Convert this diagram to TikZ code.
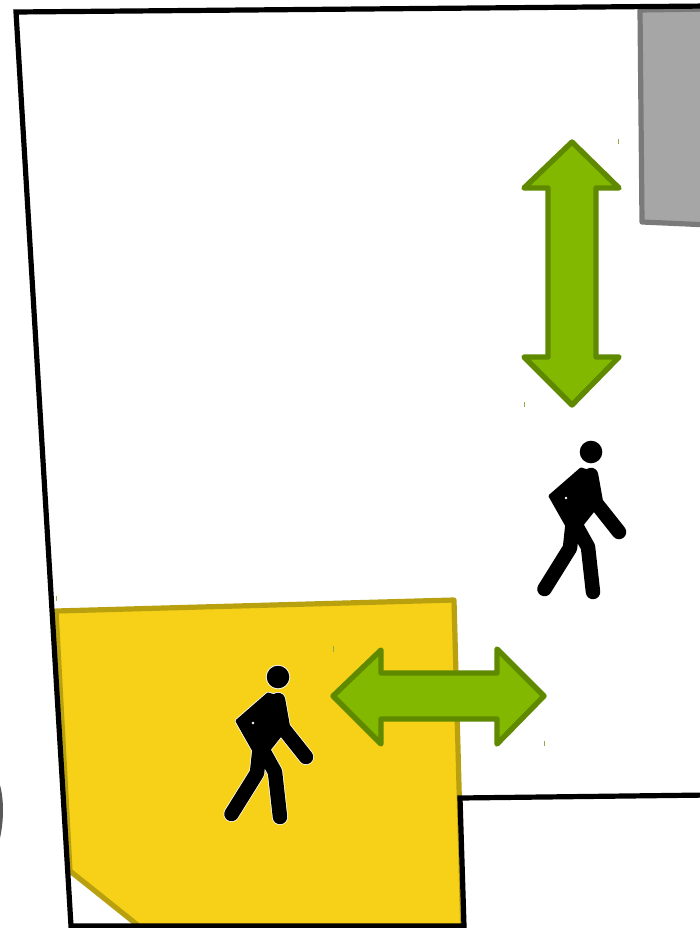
\documentclass[tikz,border=0pt]{standalone}
\usetikzlibrary{calc}
\definecolor{yfill}{HTML}{F7D117}
\definecolor{yline}{HTML}{B8A00F}
\definecolor{gfill}{HTML}{A6A6A6}
\definecolor{gline}{HTML}{7A7A7A}
\definecolor{afill}{HTML}{82B800}
\definecolor{aline}{HTML}{5F8A00}
\tikzset{
  wall/.style={draw=black,line width=5.2pt,line join=miter,line cap=butt},
  zone/.style={draw=yline,fill=yfill,line width=5.2pt,line join=round},
  block/.style={draw=gline,fill=gfill,line width=5.2pt,line join=round},
  dblarrow/.style={draw=aline,fill=afill,line width=5.4pt,line join=round},
  tick/.style={line width=.7pt},
  limb/.style={line width=#1,line cap=round,line join=round},
  limb/.default=14.5pt
}
\newcommand{\walkershape}[3]{%
  \fill (0,0) circle (#1);
  \draw[limb=#2] (0,23) -- (5,51) -- (28,80);
  \draw[limb=#2] (-18,68) -- (-21,96) -- (-46.5,137);
  \draw[limb=#2] (-18,68) -- (-3,95) -- (2,140);
  \filldraw[line width=#3,line join=round] (-41,44) -- (-10,17) -- (3,21) -- (9,50) -- (-10,74) -- (-24,74) -- cycle;
}
\newcommand{\walker}[2]{%
\begin{scope}[shift={(#1,#2)}]
  \begin{scope}[draw=white,fill=white]
    \walkershape{12.2}{16pt}{4.6pt}
  \end{scope}
  \begin{scope}[draw=black,fill=black]
    \walkershape{11.3}{14.5pt}{3pt}
  \end{scope}
  \fill[white] (-25,46) circle (1.4);
\end{scope}}
\begin{document}
\begin{tikzpicture}[x=1pt,y=-1pt]
\useasboundingbox (0,0) rectangle (700,928);
\fill[white] (0,0) rectangle (700,928);
% object cut off at the left edge
\fill[gray!70!black] (0,785) .. controls (4,800) and (4,820) .. (0,838) -- cycle;
% yellow zone
\path[zone] (56,611) -- (454,600) -- (463,935) -- (150,935) -- (70,871) -- cycle;
% grey block
\path[block] (640,10) -- (642,222) -- (710,225) -- (710,9) -- cycle;
% walls
\draw[wall] (710,6) -- (16,12) -- (71,926) -- (464,926) -- (460,798) -- (710,795);
% arrows
\path[dblarrow] (572,142) -- (619,188) -- (596,188) -- (596,357) -- (619,357) -- (572,405) -- (524,357) -- (548,357) -- (548,188) -- (524,188) -- cycle;
\path[dblarrow] (333,696) -- (381,650) -- (381,673) -- (497,673) -- (497,649) -- (544,696) -- (497,744) -- (497,719) -- (381,719) -- (381,744) -- cycle;
% handles
\draw[tick,aline!70] (618.5,139) -- (618.5,144);
\draw[tick,aline!70] (524.5,402) -- (524.5,407);
\draw[tick,aline!70] (333.5,646) -- (333.5,652);
\draw[tick,aline!70] (544,741) -- (544,746);
\draw[tick,aline!70] (56,596) -- (56,601);
% walkers
\walker{278}{677}
\walker{591}{452}
\end{tikzpicture}
\end{document}
